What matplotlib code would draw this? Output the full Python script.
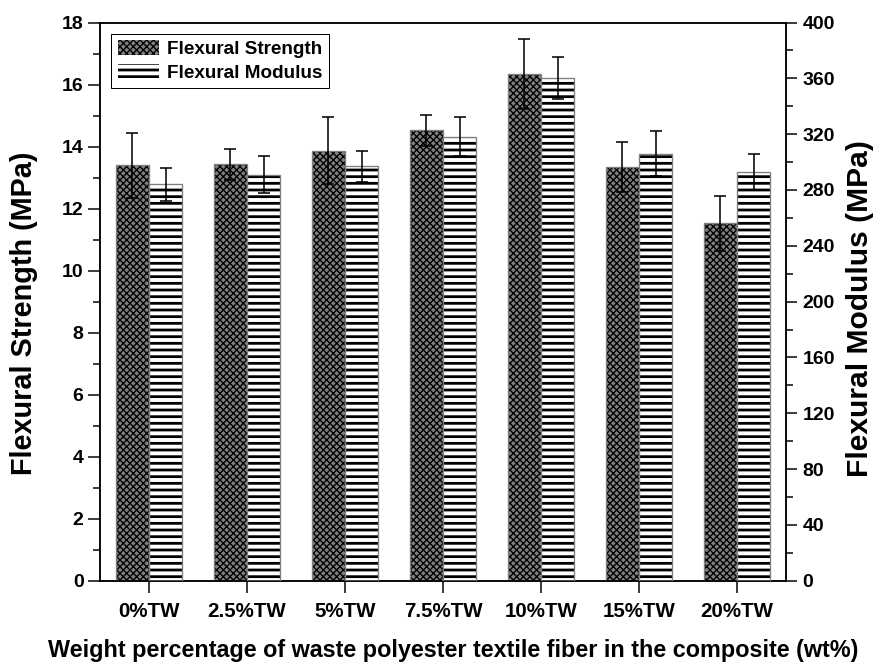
import matplotlib
matplotlib.use("Agg")
import matplotlib.pyplot as plt
import numpy as np
from matplotlib.patches import Patch
from matplotlib.ticker import MultipleLocator

categories = ["0%TW", "2.5%TW", "5%TW", "7.5%TW", "10%TW", "15%TW", "20%TW"]
strength = [13.40, 13.43, 13.87, 14.53, 16.34, 13.34, 11.53]
strength_err = [1.05, 0.50, 1.08, 0.50, 1.12, 0.82, 0.89]
modulus = [284, 291, 297, 318, 360, 306, 293]
modulus_err = [12, 13, 11, 14, 15, 16, 13]

DPI = 80
plt.rcParams['font.family'] = ['Liberation Sans', 'DejaVu Sans']
plt.rcParams['font.weight'] = 'bold'
plt.rcParams['hatch.linewidth'] = 1.2

fig = plt.figure(figsize=(877 / DPI, 665 / DPI), dpi=DPI)
ax = fig.add_axes([100 / 877, 1 - 580.7 / 665, 686 / 877, (580.7 - 22.5) / 665])
ax2 = ax.twinx()

x = np.arange(len(categories))
w = 0.34
grey_edge = '#7f7f7f'
STRIPE_LW = 2.5


def thick(patch):
    if hasattr(patch, 'set_hatch_linewidth'):
        patch.set_hatch_linewidth(STRIPE_LW)
    else:
        patch._hatch_linewidth = STRIPE_LW


# Strength bars (left axis)
ax.bar(x - w / 2, strength, w, color='#808080', edgecolor='black', linewidth=0, hatch='xxxx', zorder=2)
ax.bar(x - w / 2, strength, w, fill=False, edgecolor=grey_edge, linewidth=1.2, zorder=3)
ax.errorbar(x - w / 2, strength, yerr=strength_err, fmt='none', ecolor='black',
            elinewidth=1.4, capsize=5.5, capthick=1.4, zorder=4)

# Modulus bars (right axis)
mb = ax2.bar(x + w / 2, modulus, w, color='white', edgecolor='black', linewidth=0, hatch='--', zorder=2)
for p in mb:
    thick(p)
ax2.bar(x + w / 2, modulus, w, fill=False, edgecolor=grey_edge, linewidth=1.2, zorder=3)
ax2.errorbar(x + w / 2, modulus, yerr=modulus_err, fmt='none', ecolor='black',
             elinewidth=1.4, capsize=5.5, capthick=1.4, zorder=4)

ax.set_xlim(-0.5, len(categories) - 0.5)
ax.set_ylim(0, 18)
ax2.set_ylim(0, 400)
ax.yaxis.set_major_locator(MultipleLocator(2))
ax.yaxis.set_minor_locator(MultipleLocator(1))
ax2.yaxis.set_major_locator(MultipleLocator(40))
ax2.yaxis.set_minor_locator(MultipleLocator(20))
ax.set_xticks(x)
ax.set_xticklabels(categories)

tick_fs = 18.5
ax.tick_params(axis='y', which='major', direction='out', length=10.8, width=1.35, labelsize=17.5, pad=4)
ax.tick_params(axis='y', which='minor', direction='out', length=6, width=1.35)
ax.tick_params(axis='x', which='major', direction='out', length=10.8, width=1.35, labelsize=tick_fs, pad=8)
ax2.tick_params(axis='y', which='major', direction='out', length=10, width=1.35, labelsize=17.5, pad=5)
ax2.tick_params(axis='y', which='minor', direction='out', length=6, width=1.35)
for a in (ax, ax2):
    for s in a.spines.values():
        s.set_linewidth(1.35)
    for lab in a.get_xticklabels() + a.get_yticklabels():
        lab.set_fontweight('bold')

fig.text(24 / 877, 1 - 313.5 / 665, "Flexural Strength (MPa)", rotation=90,
         ha='center', va='center', fontsize=26, fontweight='bold')
fig.text(860 / 877, 1 - 308.5 / 665, "Flexural Modulus (MPa)", rotation=90,
         ha='center', va='center', fontsize=27, fontweight='bold')
fig.text(453 / 877, 1 - 651 / 665,
         "Weight percentage of waste polyester textile fiber in the composite (wt%)",
         ha='center', va='center', fontsize=21, fontweight='bold')

h1 = Patch(facecolor='#808080', edgecolor='black', linewidth=0, hatch='xxxx')
h2 = Patch(facecolor='white', edgecolor='black', linewidth=0, hatch='--')
thick(h2)
leg = ax2.legend([h1, h2], ["Flexural Strength", "Flexural Modulus"], loc='upper left',
                 prop={'size': 17, 'weight': 'bold'}, fancybox=False, framealpha=1,
                 edgecolor='black', handlelength=2.15, handleheight=0.8,
                 labelspacing=0.3, handletextpad=0.45, borderaxespad=0.6, borderpad=0.35)
leg.get_frame().set_linewidth(0.9)
for lp in leg.get_patches()[1:]:
    thick(lp)

fig.savefig("out.png", dpi=DPI)
